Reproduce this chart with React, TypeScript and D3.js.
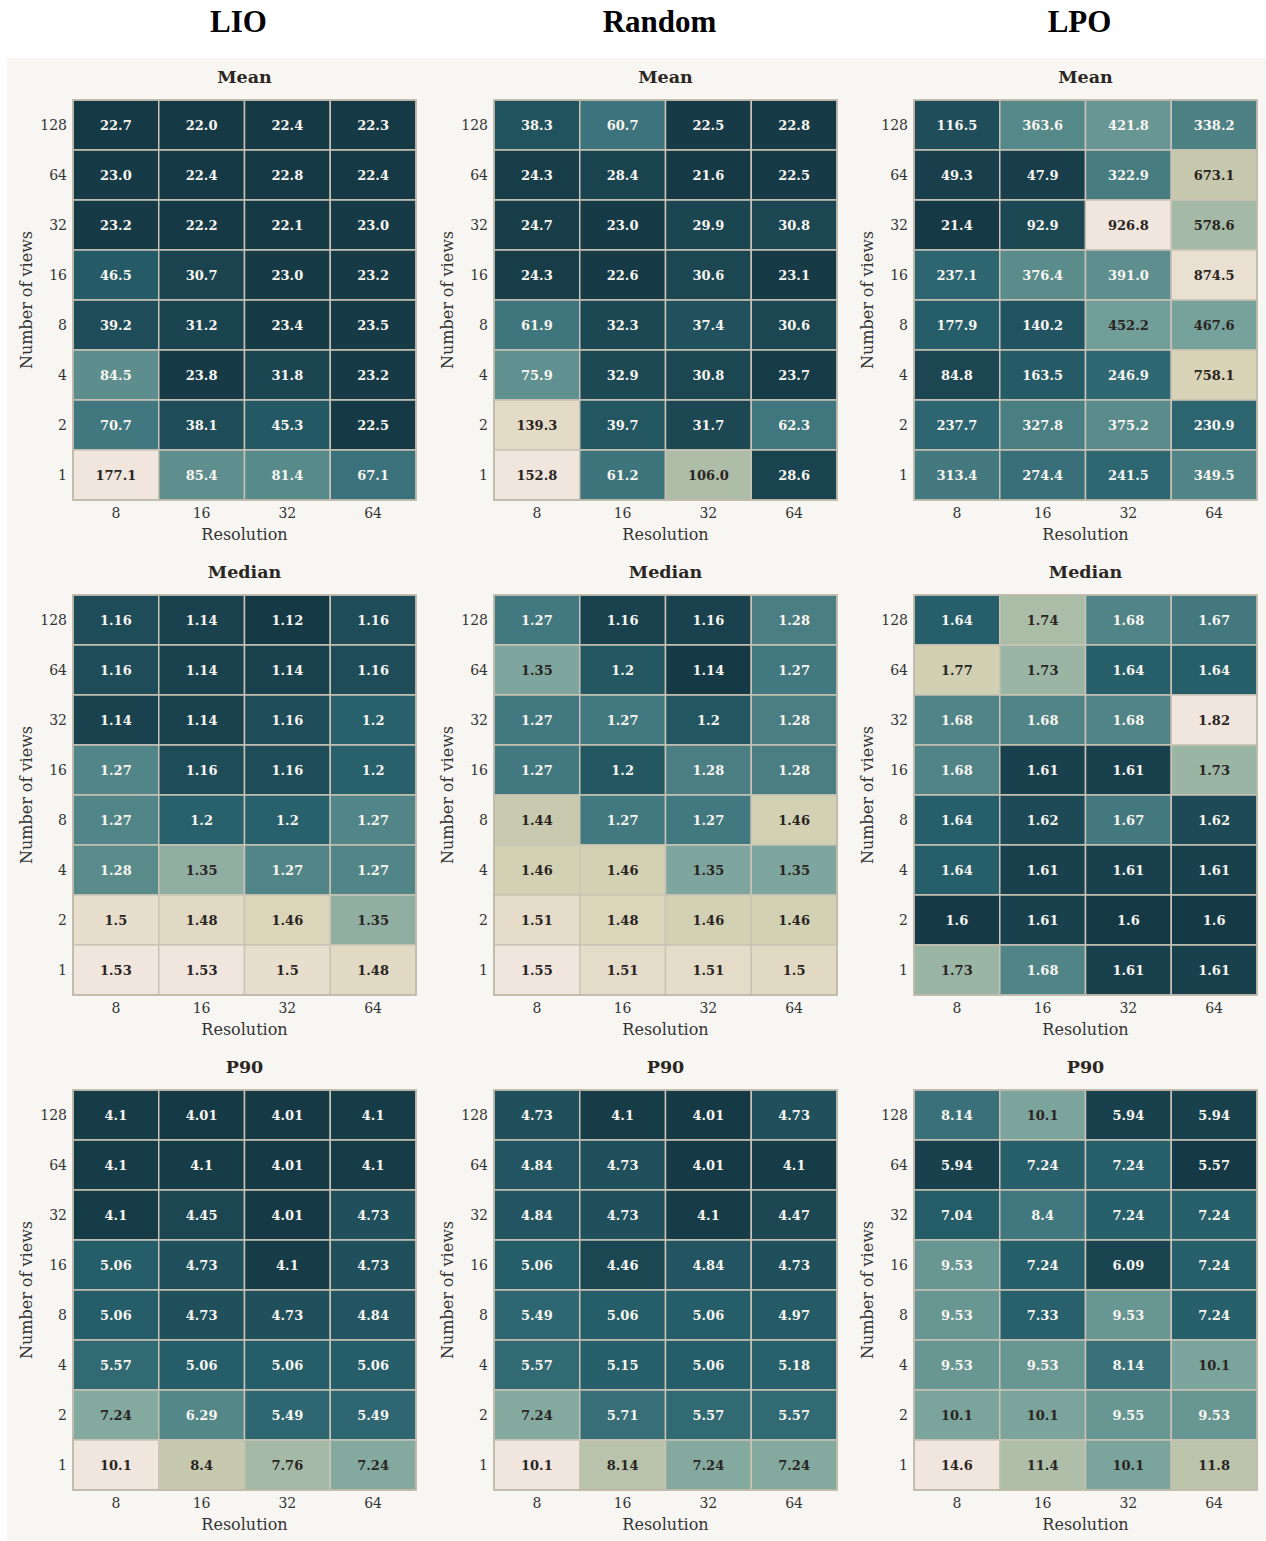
import React from "react";
import * as d3 from "d3";

const methods = ["LIO", "Random", "LPO"];
const metrics = ["Mean", "Median", "P90"];
const resolutions = ["8", "16", "32", "64"];
const views = ["128", "64", "32", "16", "8", "4", "2", "1"];

// rows: views 128 -> 1 ; cols: resolution 8,16,32,64
const lioMean = [
  [22.7, 22.0, 22.4, 22.3],
  [23.0, 22.4, 22.8, 22.4],
  [23.2, 22.2, 22.1, 23.0],
  [46.5, 30.7, 23.0, 23.2],
  [39.2, 31.2, 23.4, 23.5],
  [84.5, 23.8, 31.8, 23.2],
  [70.7, 38.1, 45.3, 22.5],
  [177.1, 85.4, 81.4, 67.1],
];
const randomMean = [
  [38.3, 60.7, 22.5, 22.8],
  [24.3, 28.4, 21.6, 22.5],
  [24.7, 23.0, 29.9, 30.8],
  [24.3, 22.6, 30.6, 23.1],
  [61.9, 32.3, 37.4, 30.6],
  [75.9, 32.9, 30.8, 23.7],
  [139.3, 39.7, 31.7, 62.3],
  [152.8, 61.2, 106.0, 28.6],
];
const lpoMean = [
  [116.5, 363.6, 421.8, 338.2],
  [49.3, 47.9, 322.9, 673.1],
  [21.4, 92.9, 926.8, 578.6],
  [237.1, 376.4, 391.0, 874.5],
  [177.9, 140.2, 452.2, 467.6],
  [84.8, 163.5, 246.9, 758.1],
  [237.7, 327.8, 375.2, 230.9],
  [313.4, 274.4, 241.5, 349.5],
];
const lioMedian = [
  [1.16, 1.14, 1.12, 1.16],
  [1.16, 1.14, 1.14, 1.16],
  [1.14, 1.14, 1.16, 1.2],
  [1.27, 1.16, 1.16, 1.2],
  [1.27, 1.2, 1.2, 1.27],
  [1.28, 1.35, 1.27, 1.27],
  [1.5, 1.48, 1.46, 1.35],
  [1.53, 1.53, 1.5, 1.48],
];
const randomMedian = [
  [1.27, 1.16, 1.16, 1.28],
  [1.35, 1.2, 1.14, 1.27],
  [1.27, 1.27, 1.2, 1.28],
  [1.27, 1.2, 1.28, 1.28],
  [1.44, 1.27, 1.27, 1.46],
  [1.46, 1.46, 1.35, 1.35],
  [1.51, 1.48, 1.46, 1.46],
  [1.55, 1.51, 1.51, 1.5],
];
const lpoMedian = [
  [1.64, 1.74, 1.68, 1.67],
  [1.77, 1.73, 1.64, 1.64],
  [1.68, 1.68, 1.68, 1.82],
  [1.68, 1.61, 1.61, 1.73],
  [1.64, 1.62, 1.67, 1.62],
  [1.64, 1.61, 1.61, 1.61],
  [1.6, 1.61, 1.6, 1.6],
  [1.73, 1.68, 1.61, 1.61],
];
const lioP90 = [
  [4.1, 4.01, 4.01, 4.1],
  [4.1, 4.1, 4.01, 4.1],
  [4.1, 4.45, 4.01, 4.73],
  [5.06, 4.73, 4.1, 4.73],
  [5.06, 4.73, 4.73, 4.84],
  [5.57, 5.06, 5.06, 5.06],
  [7.24, 6.29, 5.49, 5.49],
  [10.1, 8.4, 7.76, 7.24],
];
const randomP90 = [
  [4.73, 4.1, 4.01, 4.73],
  [4.84, 4.73, 4.01, 4.1],
  [4.84, 4.73, 4.1, 4.47],
  [5.06, 4.46, 4.84, 4.73],
  [5.49, 5.06, 5.06, 4.97],
  [5.57, 5.15, 5.06, 5.18],
  [7.24, 5.71, 5.57, 5.57],
  [10.1, 8.14, 7.24, 7.24],
];
const lpoP90 = [
  [8.14, 10.1, 5.94, 5.94],
  [5.94, 7.24, 7.24, 5.57],
  [7.04, 8.4, 7.24, 7.24],
  [9.53, 7.24, 6.09, 7.24],
  [9.53, 7.33, 9.53, 7.24],
  [9.53, 9.53, 8.14, 10.1],
  [10.1, 10.1, 9.55, 9.53],
  [14.6, 11.4, 10.1, 11.8],
];

const grids = [
  [lioMean, randomMean, lpoMean],
  [lioMedian, randomMedian, lpoMedian],
  [lioP90, randomP90, lpoP90],
];
const formats = [d3.format(".1f"), d3.format(".3~g"), d3.format(".3~g")];

const cmapStops = [0, 0.06, 0.11, 0.16, 0.24, 0.3, 0.38, 0.45, 0.52, 0.62, 0.72, 0.8, 0.9, 1];
const cmapColors = [
  "#153945", "#1a4450", "#1f4e5a", "#245c67", "#2d6670", "#3d737c", "#568989",
  "#6a9895", "#80a89f", "#a6baa6", "#c6c9ae", "#d7d3b4", "#e4dbc7", "#f0e6de",
];
const cmap = d3.scaleLinear<string>().domain(cmapStops).range(cmapColors).interpolate(d3.interpolateRgb);

const W = 1266;
const H = 1541;
const gridW = 343;
const gridH = 400;
const colLeft = [73, 494, 914];
const rowTop = [100, 595, 1090];

const serif = "'DejaVu Serif', serif";

function Panel({ data, fmt, left, top, title }: any) {
  const x = d3.scaleBand().domain(resolutions).range([left, left + gridW]);
  const y = d3.scaleBand().domain(views).range([top, top + gridH]);
  const flat = data.flat();
  const norm = d3.scaleLinear().domain([d3.min(flat) as number, d3.max(flat) as number]).range([0, 1]);
  const cx = left + gridW / 2;
  return (
    <g>
      <text x={cx} y={top - 17} textAnchor="middle" fontFamily={serif} fontWeight="bold" fontSize={17.5} fill="#2b2622">
        {title}
      </text>
      {data.map((row: number[], i: number) =>
        row.map((v: number, j: number) => {
          const t = norm(v);
          return (
            <g key={`${i}-${j}`}>
              <rect
                x={x(resolutions[j])}
                y={y(views[i])}
                width={x.bandwidth()}
                height={y.bandwidth()}
                fill={cmap(t)}
                stroke="#c9c3b5"
                strokeWidth={1.5}
              />
              <text
                x={(x(resolutions[j]) as number) + x.bandwidth() / 2}
                y={(y(views[i]) as number) + y.bandwidth() / 2}
                dy="0.36em"
                textAnchor="middle"
                fontFamily={serif}
                fontWeight="bold"
                fontSize={13}
                fill={t > 0.47 ? "#2a2522" : "#f7f5f0"}
              >
                {fmt(v)}
              </text>
            </g>
          );
        })
      )}
      <rect x={left} y={top} width={gridW} height={gridH} fill="none" stroke="#bdb7a8" strokeWidth={1.5} />
      {resolutions.map((r) => (
        <text key={r} x={(x(r) as number) + x.bandwidth() / 2} y={top + gridH + 18} textAnchor="middle" fontFamily={serif} fontSize={14} fill="#333">
          {r}
        </text>
      ))}
      {views.map((v) => (
        <text key={v} x={left - 6} y={(y(v) as number) + y.bandwidth() / 2} dy="0.36em" textAnchor="end" fontFamily={serif} fontSize={14} fill="#333">
          {v}
        </text>
      ))}
      <text x={cx} y={top + gridH + 40} textAnchor="middle" fontFamily={serif} fontSize={16} fill="#333">
        Resolution
      </text>
      <text
        transform={`translate(${left - 41},${top + gridH / 2}) rotate(-90)`}
        textAnchor="middle"
        fontFamily={serif}
        fontSize={16}
        fill="#333"
      >
        Number of views
      </text>
    </g>
  );
}

export default function App() {
  return (
    <svg width={W} height={H} style={{ position: "absolute", left: 0, top: 0, background: "#fff" }}>
      <rect x={0} y={0} width={W} height={H} fill="#ffffff" />
      <rect x={7} y={58} width={W - 7} height={H - 59} fill="#f7f6f2" />
      {methods.map((m, c) => (
        <text key={m} x={colLeft[c] + gridW / 2 - 6} y={32} textAnchor="middle" fontFamily="'Liberation Serif', serif" fontWeight="bold" fontSize={31} fill="#000">
          {m}
        </text>
      ))}
      {metrics.map((metric, r) =>
        methods.map((m, c) => (
          <Panel key={`${r}-${c}`} data={grids[r][c]} fmt={formats[r]} left={colLeft[c]} top={rowTop[r]} title={metric} />
        ))
      )}
    </svg>
  );
}
